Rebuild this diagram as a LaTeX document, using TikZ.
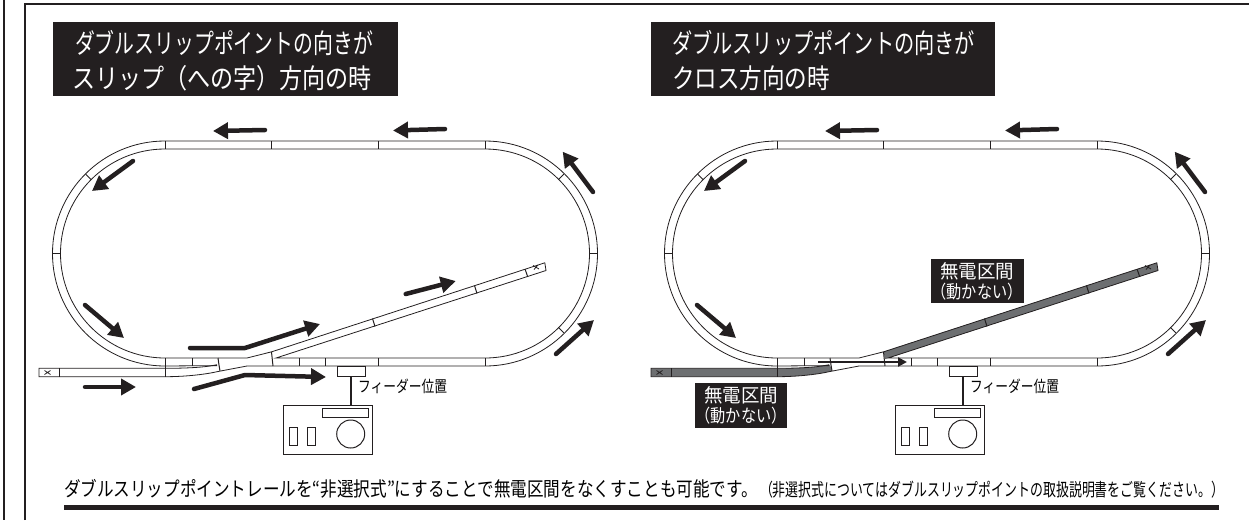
\documentclass[tikz,border=0pt]{standalone}
\usepackage{fontspec}
\usepackage{graphicx}
\setmainfont{Noto Sans CJK JP}
\usetikzlibrary{arrows.meta}
\definecolor{inkblack}{HTML}{231F20}
\definecolor{deadgrey}{HTML}{6D6F71}
\tikzset{
  every node/.style={inner sep=0pt,outer sep=0pt},
  rail/.style={draw=inkblack,line width=0.8pt},
  tie/.style={draw=inkblack,line width=1pt},
  frameline/.style={draw=inkblack,line width=2.6pt},
  fatarrow/.style={draw=inkblack,line width=4.5pt,line cap=round,line join=round,-{Triangle[length=15pt,width=16pt]}},
  blackbox/.style={fill=inkblack,text=white,align=center},
  device/.style={draw=inkblack,line width=1pt,fill=white},
}
\newcommand{\sizedtext}[3]{{\fontsize{#2}{#2}\selectfont\resizebox{#1pt}{\height}{#3}}}
\newcommand{\layout}{
  % rails
  \draw[rail] (165,141) -- (485,141) arc[start angle=-90,end angle=90,radius=112.5] -- (247,366)
    -- (218,371.5) .. controls (205,374.5) and (185,376.7) .. (165,376.7) -- (39,376.7) -- (39,368.3) -- (165,368.3)
    .. controls (185,368.3) and (205,367.5) .. (217,364.7);
  \draw[rail] (217,365.6) -- (165,366) arc[start angle=90,end angle=270,radius=112.5];
  \draw[rail] (165,149) -- (485,149) arc[start angle=-90,end angle=90,radius=104.5] -- (276,358) -- (546,270.5) -- (544.8,262.8) -- (272,351.7) -- (247,358) -- (165,358) arc[start angle=90,end angle=270,radius=104.5];
  % ties
  \foreach \tx in {165,271,378,485} \draw[tie] (\tx,141) -- (\tx,149);
  \foreach \tx in {192,299,325,378,485} \draw[tie] (\tx,358) -- (\tx,366);
  \draw[tie] (165,358) -- (165,376.7);
  \draw[tie] (59,368.3) -- (59,376.7);
  \draw[tie] (218,358) -- (219,365) -- (220,371);
  \draw[tie] (271.5,352) -- (273,366);
  \draw[tie] (372.5,318.5) -- (375,326.5);
  \draw[tie] (474.5,285.5) -- (477,293.5);
  \draw[tie] (525,269) -- (527.7,276.7);
  \foreach \tx/\ty/\ux/\uy in {53/253.5/61/253.5,85.5/174/91.1/179.6,596.5/253.5/588.5/253.5,564/174/558.4/179.6,564/333/558.4/327.4} \draw[tie] (\tx,\ty) -- (\ux,\uy);
  % stop marks
  \draw[rail] (44.5,370.5) -- (50.5,374.5) (44.5,374.5) -- (50.5,370.5);
  \draw[rail] (533,265.5) -- (539,269) (534,269.5) -- (538,265);
  % arrows
  \draw[fatarrow] (265,130) -- (213,131);
  \draw[fatarrow] (445,129) -- (393,130.5);
  \draw[fatarrow] (133,161) -- (92,191);
  \draw[fatarrow] (593,192) -- (562.7,151.7);
  \draw[fatarrow] (556,354) -- (594,320);
  \draw[fatarrow] (85,305) -- (124,338);
  % feeder and controller
  \node[device,minimum width=28pt,minimum height=9.5pt] (feeder) at (351,371.3) {};
  \node[device,minimum width=89pt,minimum height=49pt] (controller) at (328.2,429.5) {};
  \draw[inkblack,line width=2.4pt] (feeder.south) -- (feeder.south |- controller.north);
  \node[device,minimum width=46pt,minimum height=9.5pt] (dial) at (345,412.8) {};
  \node[device,minimum width=7.7pt,minimum height=18pt] (leverA) at (293.8,436.7) {};
  \node[device,minimum width=8pt,minimum height=18pt] (leverB) at (311,436.7) {};
  \node[device,circle,minimum size=28pt] (knob) at (350.7,434) {};
  \node[anchor=west] (feederlabel) at (358,386.5) {\sizedtext{89}{16}{フィーダー位置}};
}

\begin{document}
\begin{tikzpicture}[x=1pt,y=1pt,yscale=-1]
\useasboundingbox (0,0) rectangle (1249,520);
\draw[frameline] (4,0) -- (4,520);
\draw[frameline] (25,520) -- (25,4) -- (1249,4);
% left picture
\node[blackbox,anchor=north west,minimum width=345pt,minimum height=74pt] (titleA) at (53,22) {};
\node[anchor=west,text=white] (titleA1) at (75,43) {\sizedtext{298}{27}{ダブルスリップポイントの向きが}};
\node[anchor=west,text=white] (titleA2) at (72,78) {\sizedtext{300}{27}{スリップ（への字）方向の時}};
\layout
\draw[fatarrow] (405.7,294) -- (455.7,281);
\draw[fatarrow] (190,348) -- (245,348) -- (320,324);
\draw[fatarrow] (194,389) -- (245,375) -- (326,377);
\draw[fatarrow] (85,387) -- (136,387);
%
% right picture
\node[blackbox,anchor=north west,minimum width=344pt,minimum height=74pt] (titleB) at (651,22) {};
\node[anchor=west,text=white] (titleB1) at (672,43) {\sizedtext{303}{27}{ダブルスリップポイントの向きが}};
\node[anchor=west,text=white] (titleB2) at (672,78) {\sizedtext{158}{27}{クロス方向の時}};
\begin{scope}[xshift=612pt]
\fill[deadgrey] (39,368.3) -- (165,368.3) .. controls (185,368.3) and (205,367.5) .. (218,364.7) -- (220,371) .. controls (205,374.5) and (185,376.7) .. (165,376.7) -- (39,376.7) -- cycle;
\fill[deadgrey] (271.5,351.7) -- (544.8,262.8) -- (546,270.5) -- (273,359) -- cycle;
\layout
\end{scope}
\draw[inkblack,line width=2.6pt,-{Triangle[length=9pt,width=9pt]}] (818,362) -- (907,362);
\node[blackbox,anchor=north west,minimum width=92pt,minimum height=45pt] (deadA) at (695,383) {};
\node (deadA1) at (741,395.5) {\sizedtext{74}{19}{\color{white}無電区間}};
\node (deadA2) at (741,416) {\sizedtext{91}{18}{\color{white}（動かない）}};
\node[blackbox,anchor=north west,minimum width=92.5pt,minimum height=44pt] (deadB) at (931,259) {};
\node (deadB1) at (977,271.5) {\sizedtext{74}{19}{\color{white}無電区間}};
\node (deadB2) at (977,292) {\sizedtext{91}{18}{\color{white}（動かない）}};
%
% caption
\node[anchor=base west] (noteA) at (64,496) {\sizedtext{694}{20}{ダブルスリップポイントレールを“非選択式”にすることで無電区間をなくすことも可能です。}};
\node[anchor=base west] (noteB) at (760,496) {\sizedtext{464}{18}{（非選択式についてはダブルスリップポイントの取扱説明書をご覧ください。）}};
\fill[inkblack] (64,505) rectangle (1218.5,510);
\end{tikzpicture}
\end{document}
